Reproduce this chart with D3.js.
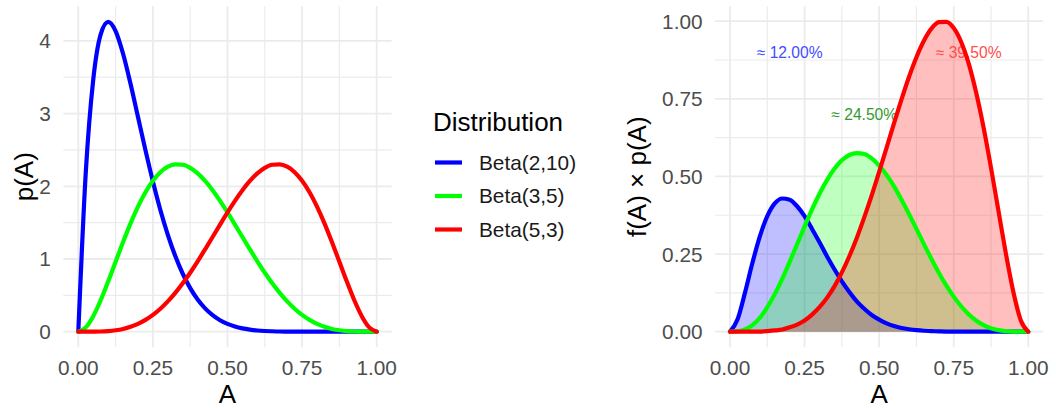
<!DOCTYPE html>
<html><head><meta charset="utf-8">
<script src="https://cdn.jsdelivr.net/npm/d3@7"></script>
<style>
body{margin:0;background:#fff}
svg{display:block}
text{font-family:"Liberation Sans",Arial,Helvetica,sans-serif}
</style>
</head><body><svg id="c" width="1056" height="408"></svg>
<script>
// ---- data ----
const aValues = [0,0.025,0.05,0.075,0.1,0.125,0.15,0.175,0.2,0.225,0.25,0.275,0.3,0.325,0.35,0.375,0.4,0.425,0.45,0.475,0.5,
  0.525,0.55,0.575,0.6,0.625,0.65,0.675,0.7,0.725,0.75,0.775,0.8,0.825,0.85,0.875,0.9,0.925,0.95,0.975,1];
const seriesNames = ["Beta(2,10)","Beta(3,5)","Beta(5,3)"];
const seriesColors = ["#0000ff","#00ff00","#ff0000"];
// left panel: p(A)
const pBeta2_10 = [0,2.190,3.466,4.090,4.262,4.135,3.822,3.409,2.953,2.497,2.065,1.674,1.332,1.040,0.797,0.600,0.443,0.321,0.228,0.158,0.107,
  0.071,0.046,0.029,0.017,0.010,0.006,0.003,0.002,0.001,0.0003,0.0001,0,0,0,0,0,0,0,0,0];
const pBeta3_5 = [0,0.059,0.214,0.432,0.689,0.962,1.233,1.490,1.720,1.918,2.076,2.194,2.269,2.302,2.296,2.253,2.177,2.073,1.946,1.800,1.641,
  1.473,1.302,1.133,0.968,0.811,0.666,0.534,0.417,0.316,0.231,0.162,0.108,0.067,0.038,0.020,0.009,0.003,0.001,0,0];
const pBeta5_3 = [0,0,0.001,0.003,0.009,0.020,0.038,0.067,0.108,0.162,0.231,0.316,0.417,0.534,0.666,0.811,0.968,1.133,1.302,1.473,1.641,
  1.800,1.946,2.073,2.177,2.253,2.296,2.302,2.269,2.194,2.076,1.918,1.720,1.490,1.233,0.962,0.689,0.432,0.214,0.059,0];
// right panel: f(A) x p(A)
const fpBeta2_10 = [0,0.039,0.125,0.221,0.307,0.372,0.413,0.429,0.425,0.404,0.372,0.331,0.288,0.243,0.201,0.162,0.128,0.098,0.074,0.054,0.039,
  0.027,0.018,0.012,0.008,0.005,0.003,0.002,0.001,0.0004,0.0002,0.0001,0,0,0,0,0,0,0,0,0];
const fpBeta3_5 = [0,0.001,0.007,0.021,0.045,0.079,0.121,0.170,0.225,0.282,0.339,0.394,0.444,0.488,0.525,0.552,0.569,0.575,0.572,0.558,0.535,
  0.505,0.468,0.425,0.379,0.331,0.282,0.235,0.190,0.149,0.113,0.082,0.056,0.036,0.021,0.011,0.005,0.002,0.0004,0,0];
const fpBeta5_3 = [0,0,0,0.0001,0.0005,0.002,0.004,0.007,0.014,0.023,0.036,0.055,0.079,0.109,0.146,0.191,0.243,0.302,0.368,0.439,0.515,
  0.593,0.672,0.748,0.820,0.884,0.937,0.976,0.997,0.998,0.978,0.933,0.864,0.771,0.658,0.528,0.389,0.251,0.128,0.036,0];
const annoLabels = ["≈ 12.00%","≈ 24.50%","≈ 39.50%"];
const annoX = [0.2,0.45,0.8];
const annoY = [0.9,0.7,0.9];
const annoColors = ["#3f4cff","#33992f","#ff4d4d"];
const xTicks = [0,0.25,0.5,0.75,1];
const xMinor = [0.125,0.375,0.625,0.875];
const yTicksLeft = [0,1,2,3,4];
const yMinorLeft = [0.5,1.5,2.5,3.5];
const yTicksRight = [0,0.25,0.5,0.75,1];
const yMinorRight = [0.125,0.375,0.625,0.875];

const svg = d3.select("#c");
const TOP = 6.3, BOTTOM = 347.2;
const GRID = "#ebebeb";
const LW = 4.2;

function drawPanel(o){
  const g = svg.append("g");
  const x = d3.scaleLinear().domain([-0.05,1.05]).range([o.left,o.right]);
  const ymax = d3.max(o.series.flat());
  const y = d3.scaleLinear().domain([-0.05*ymax, ymax*1.05]).range([BOTTOM,TOP]);
  // grid
  g.selectAll(".vmin").data(xMinor).join("line").attr("x1",d=>x(d)).attr("x2",d=>x(d))
    .attr("y1",TOP).attr("y2",BOTTOM).attr("stroke",GRID).attr("stroke-width",1.2);
  g.selectAll(".hmin").data(o.yMinor).join("line").attr("y1",d=>y(d)).attr("y2",d=>y(d))
    .attr("x1",o.left).attr("x2",o.right).attr("stroke",GRID).attr("stroke-width",1.2);
  g.selectAll(".vmaj").data(xTicks).join("line").attr("x1",d=>x(d)).attr("x2",d=>x(d))
    .attr("y1",TOP).attr("y2",BOTTOM).attr("stroke",GRID).attr("stroke-width",1.8);
  g.selectAll(".hmaj").data(o.yTicks).join("line").attr("y1",d=>y(d)).attr("y2",d=>y(d))
    .attr("x1",o.left).attr("x2",o.right).attr("stroke",GRID).attr("stroke-width",1.8);
  // tick labels
  g.selectAll(".xl").data(xTicks).join("text").attr("x",d=>x(d)).attr("y",375)
    .attr("text-anchor","middle").attr("font-size","20.8px").attr("fill","#4d4d4d")
    .text(d=>d3.format(".2f")(d));
  g.selectAll(".yl").data(o.yTicks).join("text").attr("x",o.left-12.5).attr("y",d=>y(d)).attr("dy","0.36em")
    .attr("text-anchor","end").attr("font-size","20.8px").attr("fill","#4d4d4d")
    .text(d=>o.yFmt(d));
  // titles
  g.append("text").attr("x",(x(0)+x(1))/2).attr("y",403).attr("text-anchor","middle")
    .attr("font-size","26px").attr("fill","#000").text("A");
  g.append("text").attr("transform",`translate(${o.ytX},${(TOP+BOTTOM)/2}) rotate(-90)`)
    .attr("text-anchor","middle").attr("font-size","26px").attr("fill","#000").text(o.yTitle);
  const pts = o.series.map(s=>aValues.map((a,i)=>[a,s[i]]));
  if(o.fill){
    const area = d3.area().x(d=>x(d[0])).y0(y(0)).y1(d=>y(d[1])).curve(d3.curveMonotoneX);
    pts.forEach((p,i)=>g.append("path").attr("d",area(p)).attr("fill",seriesColors[i]).attr("fill-opacity",0.25));
  }
  if(o.anno){
    annoLabels.forEach((t,i)=>g.append("text").attr("x",x(annoX[i])).attr("y",y(annoY[i])).attr("dy","0.36em")
      .attr("text-anchor","middle").attr("font-size","15.6px").attr("fill",annoColors[i]).text(t));
  }
  const line = d3.line().x(d=>x(d[0])).y(d=>y(d[1])).curve(d3.curveMonotoneX);
  pts.forEach((p,i)=>g.append("path").attr("d",line(p)).attr("fill","none")
    .attr("stroke",seriesColors[i]).attr("stroke-width",LW).attr("stroke-linejoin","round").attr("stroke-linecap","round"));
}

drawPanel({left:63.4,right:391.6,series:[pBeta2_10,pBeta3_5,pBeta5_3],yTicks:yTicksLeft,yMinor:yMinorLeft,
  yFmt:d3.format("d"),yTitle:"p(A)",ytX:33,fill:false,anno:false});
drawPanel({left:715.1,right:1043.2,series:[fpBeta2_10,fpBeta3_5,fpBeta5_3],yTicks:yTicksRight,yMinor:yMinorRight,
  yFmt:d3.format(".2f"),yTitle:"f(A) × p(A)",ytX:646,fill:true,anno:true});

// legend
const lg = svg.append("g");
lg.append("text").attr("x",433).attr("y",130.5).attr("font-size","26px").attr("fill","#000").text("Distribution");
const keyY = d3.scalePoint().domain(seriesNames).range([162.5,229.5]);
seriesNames.forEach((n,i)=>{
  lg.append("line").attr("x1",435).attr("x2",462).attr("y1",keyY(n)).attr("y2",keyY(n))
    .attr("stroke",seriesColors[i]).attr("stroke-width",LW);
  lg.append("text").attr("x",479).attr("y",keyY(n)).attr("dy","0.36em").attr("font-size","20.8px")
    .attr("fill","#1a1a1a").text(n);
});
</script>
</body></html>
